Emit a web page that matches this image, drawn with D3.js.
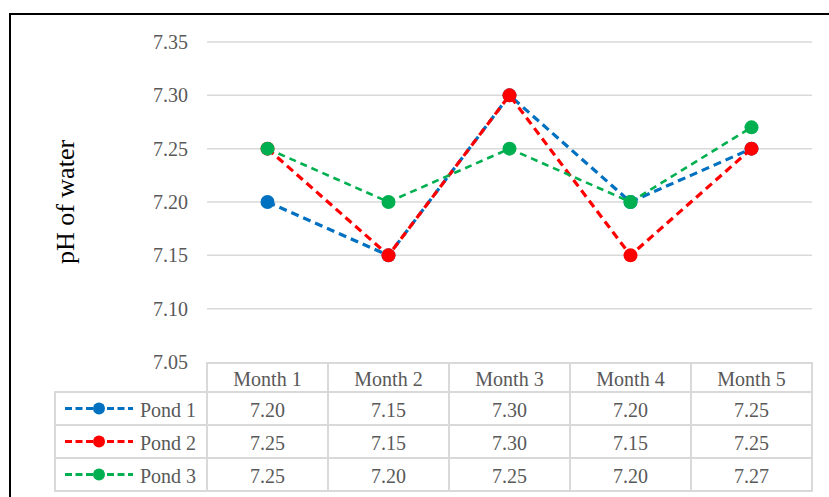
<!DOCTYPE html>
<html><head><meta charset="utf-8">
<script src="https://cdn.jsdelivr.net/npm/d3@7"></script>
<style>body{margin:0;background:#fff}svg{display:block}</style>
</head><body>
<svg id="c" width="829" height="497"></svg>
<script>
const categories = ["Month 1","Month 2","Month 3","Month 4","Month 5"];
const seriesNames = ["Pond 1","Pond 2","Pond 3"];
const pond1 = [7.20,7.15,7.30,7.20,7.25];
const pond2 = [7.25,7.15,7.30,7.15,7.25];
const pond3 = [7.25,7.20,7.25,7.20,7.27];
const yTicks = [7.05,7.10,7.15,7.20,7.25,7.30,7.35];
const colors = ["#0070C0","#FF0000","#00B050"];
const series = [pond1,pond2,pond3];

(function(){
const svg = d3.select("#c");
const font = "'Liberation Serif','Times New Roman',serif";
const fs = 20;
svg.append("rect").attr("x",10).attr("y",14).attr("width",840).attr("height",500)
  .attr("fill","none").attr("stroke","#000").attr("stroke-width",2);

const pL=207,pR=812,pT=42,pB=362;
const x = d3.scaleBand().domain(categories).range([pL,pR]);
const y = d3.scaleLinear().domain([7.05,7.35]).range([pB,pT]);

svg.append("g").selectAll("line").data(yTicks.slice(1)).join("line")
  .attr("x1",pL).attr("x2",pR).attr("y1",d=>y(d)).attr("y2",d=>y(d))
  .attr("stroke","#d9d9d9").attr("stroke-width",1.5);

svg.append("g").selectAll("text").data(yTicks).join("text")
  .attr("x",188).attr("y",d=>y(d)).attr("dy","0.35em").attr("text-anchor","end")
  .attr("font-family",font).attr("font-size",fs).attr("fill","#595959")
  .text(d=>d.toFixed(2));

svg.append("text").attr("transform","translate(74,202) rotate(-90)")
  .attr("text-anchor","middle").attr("font-family",font).attr("font-size",26).attr("fill","#000")
  .text("pH of water");

const line = d3.line().x((d,i)=>x(categories[i])+x.bandwidth()/2).y(d=>y(d));
series.forEach((s,k)=>{
  const g = svg.append("g");
  g.append("path").datum(s).attr("d",line).attr("fill","none")
    .attr("stroke",colors[k]).attr("stroke-width",k==2?2.6:3.2)
    .attr("stroke-dasharray",k==2?"7,5":"8,5");
  g.selectAll("circle").data(s).join("circle")
    .attr("cx",(d,i)=>x(categories[i])+x.bandwidth()/2).attr("cy",d=>y(d))
    .attr("r",7).attr("fill",colors[k]);
});

const gridC="#d9d9d9";
const tbl = svg.append("g");
const hTop=363, rowH=[29,33,33,33];
const rowY=[hTop]; rowH.forEach((h,i)=>rowY.push(rowY[i]+h));
const legL=55;
categories.forEach((c,i)=>{
  tbl.append("rect").attr("x",x(c)).attr("y",rowY[0]).attr("width",x.bandwidth()).attr("height",rowH[0])
    .attr("fill","none").attr("stroke",gridC).attr("stroke-width",2);
  tbl.append("text").attr("x",x(c)+x.bandwidth()/2).attr("y",rowY[0]+rowH[0]/2+1).attr("dy","0.35em")
    .attr("text-anchor","middle").attr("font-family",font).attr("font-size",fs).attr("fill","#595959").text(c);
});
series.forEach((s,k)=>{
  const ry=rowY[k+1], rh=rowH[k+1];
  tbl.append("rect").attr("x",legL).attr("y",ry).attr("width",pL-legL).attr("height",rh)
    .attr("fill","none").attr("stroke",gridC).attr("stroke-width",2);
  const cy=ry+rh/2;
  tbl.append("line").attr("x1",65).attr("x2",133).attr("y1",cy).attr("y2",cy)
    .attr("stroke",colors[k]).attr("stroke-width",3).attr("stroke-dasharray","7,3.5");
  tbl.append("circle").attr("cx",99).attr("cy",cy).attr("r",6).attr("fill",colors[k]);
  tbl.append("text").attr("x",140).attr("y",cy+1).attr("dy","0.35em").attr("font-family",font)
    .attr("font-size",fs).attr("fill","#595959").text(seriesNames[k]);
  s.forEach((v,i)=>{
    tbl.append("rect").attr("x",x(categories[i])).attr("y",ry).attr("width",x.bandwidth()).attr("height",rh)
      .attr("fill","none").attr("stroke",gridC).attr("stroke-width",2);
    tbl.append("text").attr("x",x(categories[i])+x.bandwidth()/2).attr("y",cy+1).attr("dy","0.35em")
      .attr("text-anchor","middle").attr("font-family",font).attr("font-size",fs).attr("fill","#595959")
      .text(v.toFixed(2));
  });
});
})();
</script>
</body></html>
